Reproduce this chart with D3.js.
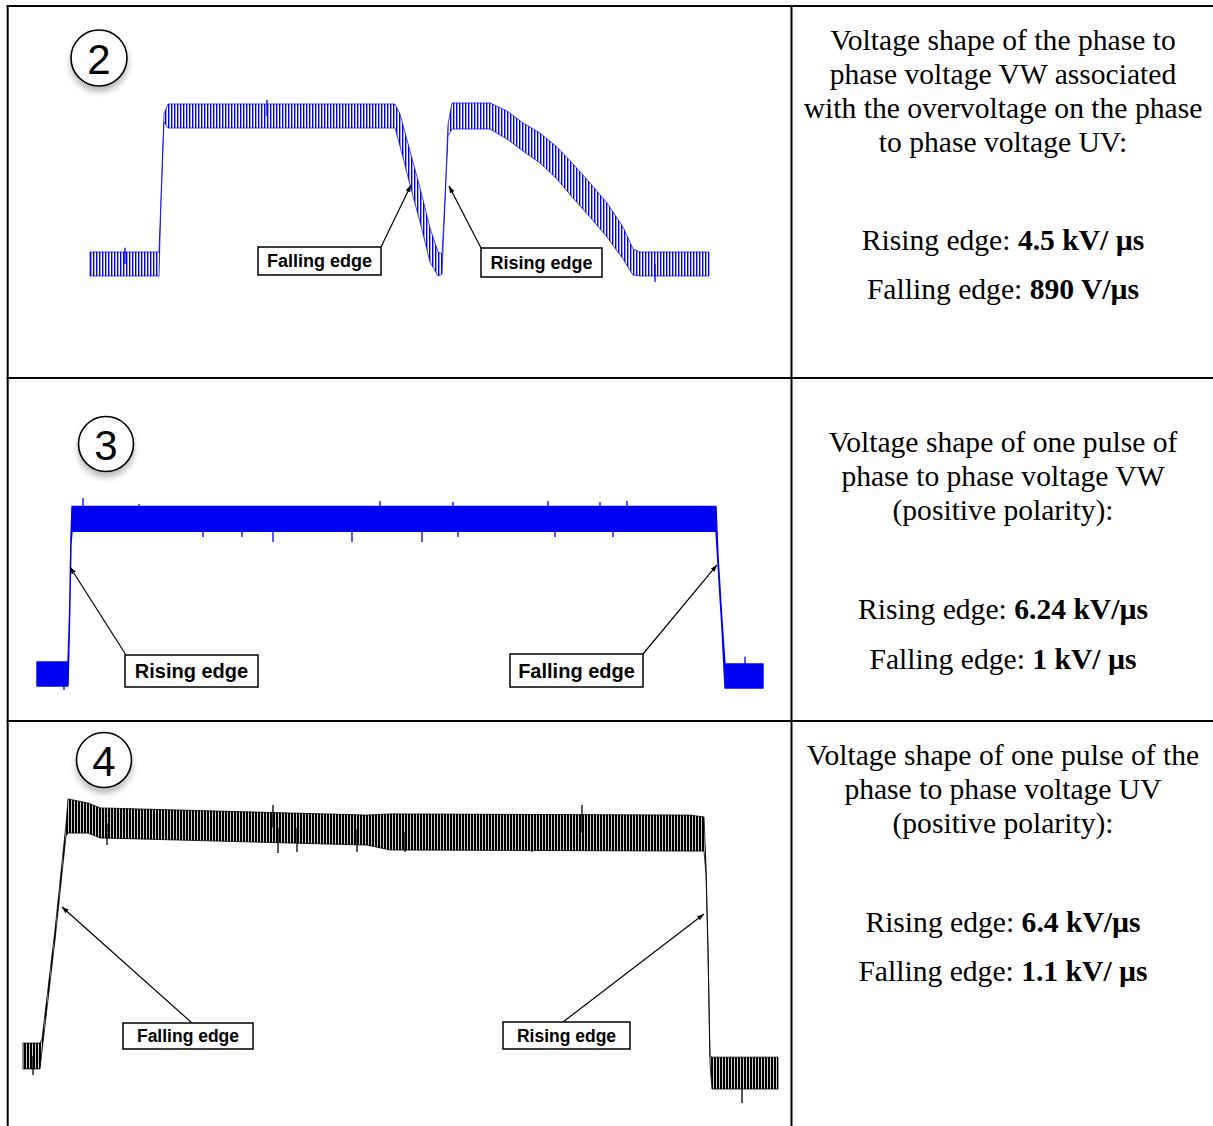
<!DOCTYPE html>
<html><head><meta charset="utf-8">
<script src="https://cdn.jsdelivr.net/npm/d3@7"></script>
<style>body{margin:0;background:#fff}svg{display:block}</style>
</head><body><svg id="c" width="1213" height="1126"></svg>
<script>
// ---------- Data (time in µs, voltage normalised: 0 = low level, 1 = plateau) ----------
// Panel 2 : VW phase-to-phase voltage with overvoltage on UV
const p1Time  = [0,6.9,7.1,7.4,7.8,30.5,31,32,33,34,34.8,35.2,35.5,35.8,36.2,40,41.7,43.3,45,46.7,48.3,50,51.7,53.3,54.3,55,61.9];
const p1Volt  = [0,0,0.432,0.986,1,1,0.905,0.649,0.399,0.128,0,0,0.432,0.905,1,1,0.939,0.858,0.784,0.682,0.561,0.432,0.297,0.142,0.014,0,0];
const p1Noise = [0.081,0.081,0.014,0.027,0.081,0.081,0.108,0.115,0.115,0.115,0.081,0.068,0.02,0.04,0.088,0.088,0.095,0.095,0.101,0.108,0.115,0.115,0.115,0.108,0.088,0.081,0.081];
const p1SpikeTime = [17.7, 56.5, 3.5];
const p1SpikeVolt = [1.11, -0.122, 0.11];

// Panel 3 : one pulse of VW (positive polarity)
const p2Time  = [0,3.1,3.25,3.4,3.5,67.9,68.1,68.5,68.8,72.6];
const p2Volt  = [0,0,0.346,0.859,0.994,0.994,0.731,0.314,-0.013,-0.013];
const p2Noise = [0.077,0.077,0.019,0.026,0.08,0.08,0.026,0.026,0.077,0.077];
const p2SpikeTime = [4.6, 10.2, 34.3, 41.6, 51.1, 56.3, 59.0, 16.6, 20.5, 23.6, 31.5, 38.5, 42.1, 51.8, 57.6, 2.7, 70.8];
const p2SpikeVolt = [1.128, 1.090, 1.109, 1.103, 1.109, 1.103, 1.109, 0.878, 0.878, 0.846, 0.846, 0.846, 0.878, 0.878, 0.878, -0.103, 0.11];

// Panel 4 : one pulse of UV (positive polarity)
const p3Time  = [0,1.7,1.9,3.2,4.3,4.5,6.5,7.7,34.4,36.7,66.7,68.1,68.3,68.5,68.7,68.9,75.5];
const p3Volt  = [0,0,0.048,0.524,0.978,1.039,1.030,1.009,0.978,0.970,0.965,0.961,0.805,0.459,-0.017,-0.074,-0.074];
const p3Noise = [0.056,0.056,0.026,0.022,0.026,0.074,0.065,0.065,0.065,0.078,0.078,0.074,0.017,0.013,0.017,0.069,0.069];
const p3SpikeTime = [25.0, 55.9, 8.4, 25.5, 27.4, 33.4, 38.2, 45.2, 50.9, 71.9, 1.0];
const p3SpikeVolt = [1.087, 1.087, 0.913, 0.879, 0.883, 0.883, 0.883, 0.892, 0.883, -0.203, -0.082];

// Annotations (label, arrow tip in data units)
const ann1Labels = ["Falling edge", "Rising edge"];
const ann1TipTime = [32.1, 35.9];
const ann1TipVolt = [0.534, 0.527];
const ann2Labels = ["Rising edge", "Falling edge"];
const ann2TipTime = [3.3, 68.0];
const ann2TipVolt = [0.686, 0.699];
const ann3Labels = ["Falling edge", "Rising edge"];
const ann3TipTime = [3.9, 68.1];
const ann3TipVolt = [0.645, 0.615];

const panelNumbers = ["2", "3", "4"];

// Description texts (right column)
const descLines = [
  ["Voltage shape of the phase to", "phase voltage VW associated", "with the overvoltage on the phase", "to phase voltage UV:"],
  ["Voltage shape of one pulse of", "phase to phase voltage VW", "(positive polarity):"],
  ["Voltage shape of one pulse of the", "phase to phase voltage UV", "(positive polarity):"]
];
const riseValues = ["4.5 kV/ µs", "6.24 kV/µs", "6.4 kV/µs"];
const fallValues = ["890 V/µs", "1 kV/ µs", "1.1 kV/ µs"];

// ---------- Layout ----------
const svg = d3.select("#c");
const defs = svg.append("defs");

function stripes(id, color, period, w) {
  const p = defs.append("pattern").attr("id", id).attr("patternUnits", "userSpaceOnUse")
    .attr("width", period).attr("height", 8);
  p.append("rect").attr("x", 0).attr("y", 0).attr("width", w).attr("height", 8).attr("fill", color);
}
const BLUE = "#0000f2";
stripes("s1", BLUE, 3, 1.4);
stripes("s3", "#000", 3, 2.2);

const sh = defs.append("filter").attr("id", "sh").attr("x", "-50%").attr("y", "-50%").attr("width", "200%").attr("height", "200%");
sh.append("feDropShadow").attr("dx", 0).attr("dy", 5).attr("stdDeviation", 3)
  .attr("flood-color", "#000").attr("flood-opacity", 0.28);

defs.append("marker").attr("id", "arr").attr("viewBox", "0 0 10 10").attr("refX", 10).attr("refY", 5)
  .attr("markerWidth", 7).attr("markerHeight", 7).attr("markerUnits", "userSpaceOnUse").attr("orient", "auto")
  .append("path").attr("d", "M0,1.5L10,5L0,8.5Z").attr("fill", "#000");

const panels = [
  { time: p1Time, volt: p1Volt, noise: p1Noise, spT: p1SpikeTime, spV: p1SpikeVolt,
    color: BLUE, fill: "url(#s1)", edgeW: 0.7, xr: [90, 709], yr: [264, 116],
    labels: ann1Labels, tipT: ann1TipTime, tipV: ann1TipVolt, font: 18,
    boxes: [{x:258,y:247,w:123,h:28,ax:381,ay:247},{x:481,y:248,w:121,h:29,ax:481,ay:248}],
    circle: {cx: 99, cy: 58, r: 28} },
  { time: p2Time, volt: p2Volt, noise: p2Noise, spT: p2SpikeTime, spV: p2SpikeVolt,
    color: BLUE, fill: BLUE, edgeW: 1.4, xr: [37, 763], yr: [674, 518],
    labels: ann2Labels, tipT: ann2TipTime, tipV: ann2TipVolt, font: 20,
    boxes: [{x:125,y:655,w:133,h:32,ax:126,ay:655},{x:510,y:654,w:133,h:33,ax:643,ay:654}],
    circle: {cx: 106, cy: 444, r: 27.5} },
  { time: p3Time, volt: p3Volt, noise: p3Noise, spT: p3SpikeTime, spV: p3SpikeVolt,
    color: "#000", fill: "url(#s3)", edgeW: 0.8, xr: [23, 778], yr: [1056, 825],
    labels: ann3Labels, tipT: ann3TipTime, tipV: ann3TipVolt, font: 17.5,
    boxes: [{x:123,y:1023,w:130,h:26,ax:192,ay:1023},{x:503,y:1022,w:127,h:27,ax:563,ay:1022}],
    circle: {cx: 104, cy: 760, r: 27.5} }
];

// ---------- Table grid ----------
const grid = svg.append("g").attr("stroke", "#000").attr("stroke-width", 2);
grid.append("line").attr("x1", 6.7).attr("x2", 1213).attr("y1", 6).attr("y2", 6);
grid.append("line").attr("x1", 7.7).attr("x2", 7.7).attr("y1", 5).attr("y2", 1126);
grid.append("line").attr("x1", 791.5).attr("x2", 791.5).attr("y1", 5).attr("y2", 1126);
grid.append("line").attr("x1", 6.7).attr("x2", 1213).attr("y1", 378).attr("y2", 378);
grid.append("line").attr("x1", 6.7).attr("x2", 1213).attr("y1", 721).attr("y2", 721);

// ---------- Waveforms ----------
panels.forEach((p, k) => {
  const x = d3.scaleLinear().domain([0, d3.max(p.time)]).range(p.xr);
  const y = d3.scaleLinear().domain([0, 1]).range(p.yr);
  const mid = d3.scaleLinear().domain(p.time).range(p.volt);
  const pts = p.time.map((t, i) => ({ t, v: p.volt[i], a: p.noise[i] }));
  const g = svg.append("g");
  g.append("path").datum(pts)
    .attr("d", d3.area().x(d => x(d.t)).y0(d => y(d.v - d.a)).y1(d => y(d.v + d.a)))
    .attr("fill", p.fill).attr("stroke", p.color).attr("stroke-width", p.edgeW).attr("stroke-linejoin", "round");
  g.selectAll(".sp").data(p.spT).join("line")
    .attr("x1", d => x(d)).attr("x2", d => x(d))
    .attr("y1", d => y(mid(d)))
    .attr("y2", (d, i) => y(p.spV[i]))
    .attr("stroke", p.color).attr("stroke-width", 1.3);

  // annotations
  p.labels.forEach((lab, i) => {
    const b = p.boxes[i];
    g.append("line").attr("x1", b.ax).attr("y1", b.ay)
      .attr("x2", x(p.tipT[i])).attr("y2", y(p.tipV[i]))
      .attr("stroke", "#000").attr("stroke-width", 1.2).attr("marker-end", "url(#arr)");
    g.append("rect").attr("x", b.x).attr("y", b.y).attr("width", b.w).attr("height", b.h)
      .attr("fill", "#fff").attr("stroke", "#000").attr("stroke-width", 1.5);
    g.append("text").attr("x", b.x + b.w / 2).attr("y", b.y + b.h / 2 + p.font * 0.36)
      .attr("text-anchor", "middle").attr("font-family", "Liberation Sans, Arial, sans-serif")
      .attr("font-weight", "bold").attr("font-size", p.font).attr("fill", "#000").text(lab);
  });

  // numbered circle
  const c = p.circle;
  svg.append("circle").attr("cx", c.cx).attr("cy", c.cy).attr("r", c.r)
    .attr("fill", "#fff").attr("stroke", "#000").attr("stroke-width", 1.6).attr("filter", "url(#sh)");
  svg.append("text").attr("x", c.cx).attr("y", c.cy + 15.5).attr("text-anchor", "middle")
    .attr("font-family", "Liberation Sans, Arial, sans-serif").attr("font-size", 42).attr("fill", "#000")
    .text(panelNumbers[k]);
});

// ---------- Right column text ----------
const textCx = 1003;
const FS = 29.6;
const descBase = [[50, 84, 118, 152], [452, 486, 520], [765, 799, 833]];
const rateBase = [[250, 299], [619, 669], [932, 981]];
descLines.forEach((lines, k) => {
  lines.forEach((s, j) => {
    svg.append("text").attr("x", textCx).attr("y", descBase[k][j]).attr("text-anchor", "middle")
      .attr("font-family", "Liberation Serif, Times New Roman, serif").attr("font-size", FS).attr("fill", "#000")
      .text(s);
  });
  const r = svg.append("text").attr("x", textCx).attr("y", rateBase[k][0]).attr("text-anchor", "middle")
    .attr("font-family", "Liberation Serif, Times New Roman, serif").attr("font-size", FS).attr("fill", "#000");
  r.append("tspan").text("Rising edge: ");
  r.append("tspan").attr("font-weight", "bold").text(riseValues[k]);
  const f = svg.append("text").attr("x", textCx).attr("y", rateBase[k][1]).attr("text-anchor", "middle")
    .attr("font-family", "Liberation Serif, Times New Roman, serif").attr("font-size", FS).attr("fill", "#000");
  f.append("tspan").text("Falling edge: ");
  f.append("tspan").attr("font-weight", "bold").text(fallValues[k]);
});
</script></body></html>
